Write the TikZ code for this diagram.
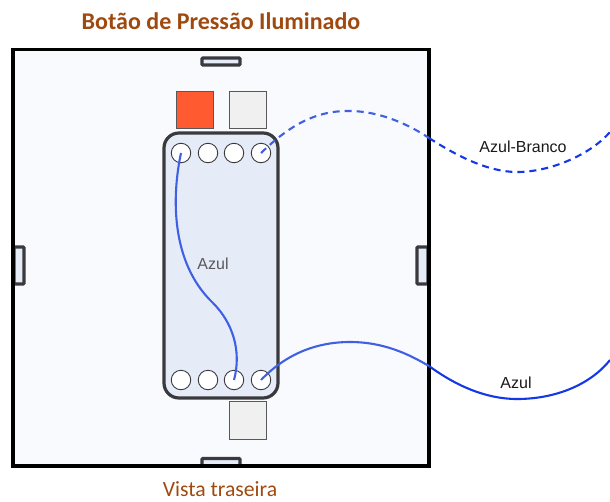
\documentclass[tikz,border=0pt]{standalone}
\usepackage{fontspec}
\setmainfont{Liberation Sans}
\newfontfamily\carlito{Carlito}
\definecolor{titlebrown}{HTML}{A0490F}
\definecolor{panelfill}{HTML}{F9FAFE}
\definecolor{bodyfill}{HTML}{E6ECF7}
\definecolor{bodyline}{HTML}{3A3A3E}
\definecolor{wireblue}{HTML}{1438E6}
\definecolor{wirelight}{HTML}{4060E4}
\definecolor{ledred}{HTML}{FF5A30}
\definecolor{ledgray}{HTML}{F0F0F0}
\tikzset{
    pin/.style={draw=bodyline,fill=white,circle,line width=0.9pt,minimum size=19.5pt,inner sep=0pt},
    led/.style={draw=bodyline!85,line width=1pt,minimum size=37pt,inner sep=0pt},
    clip box/.style={draw=bodyline,fill=bodyfill,line width=3.2pt,rounded corners=1pt,inner sep=0pt},
    wire/.style={line width=2.1pt,color=wireblue},
    wire in/.style={line width=2.1pt,color=wirelight},
    wire label/.style={font=\fontsize{16}{18}\selectfont,color=black!90}
}
\begin{document}
\begin{tikzpicture}[x=1pt,y=-1pt]
    \useasboundingbox (0,0) rectangle (610,501);
    \node [font=\carlito\bfseries\fontsize{24}{28}\selectfont,text=titlebrown] (title) at (221,21) {Botão de Pressão Iluminado};
    \node [font=\carlito\fontsize{21.7}{26}\selectfont,text=titlebrown,inner sep=0pt] (caption) at (220,489.5) {Vista traseira};
    % painel
    \fill [panelfill] (13,49.5) rectangle (429,466);
    \draw [clip box] (202,58) rectangle (240,65);
    \draw [clip box] (202,458.5) rectangle (240,466);
    \draw [clip box] (14,247) rectangle (24,284);
    \draw [clip box] (417,247) rectangle (428,284);
    \draw [line width=3.4pt] (13,49.5) rectangle (429,466);
    \node [led,fill=ledred] (ledred) at (195,110) {};
    \node [led,fill=ledgray] (ledtop) at (248,110) {};
    \node [led,fill=ledgray,minimum height=38pt] (ledbot) at (248,420) {};
    \draw [fill=bodyfill,draw=bodyline,line width=3.2pt,rounded corners=15pt] (164,133) rectangle (278,398);
    \foreach \n/\x in {1/181,2/208,3/234,4/261} {
        \node [pin] (top\n) at (\x,153) {};
        \node [pin] (bot\n) at (\x,380) {};
    }
    % fios
    \coordinate (endwhite) at (610,132);
    \coordinate (endblue) at (610,360);
    \coordinate (crosswhite) at (429,138);
    \coordinate (crossblue) at (429,366);
    \draw [wire in] (top1.center) .. controls (172,195) and (170,262) .. (213,303) .. controls (232,322) and (242,350) .. (bot3.center);
    \draw [wire in,dashed,dash pattern=on 7pt off 5pt] (top4.center) .. controls (285,130) and (310,112) .. (345,111) .. controls (375,110) and (405,122) .. (crosswhite);
    \draw [wire,dashed,dash pattern=on 7pt off 5pt] (crosswhite) .. controls (460,158) and (490,172) .. (517,172) .. controls (550,172) and (590,155) .. (endwhite);
    \draw [wire in] (bot4.center) .. controls (285,355) and (315,342) .. (350,342) .. controls (385,342) and (410,355) .. (crossblue);
    \draw [wire] (crossblue) .. controls (455,385) and (485,399) .. (517,399) .. controls (555,399) and (590,385) .. (endblue);
    \node [wire label,text=black!65] (lblin) at (213,264) {Azul};
    \node [wire label] (lblwhite) at (523,147) {Azul-Branco};
    \node [wire label] (lblblue) at (516,383) {Azul};
\end{tikzpicture}
\end{document}
